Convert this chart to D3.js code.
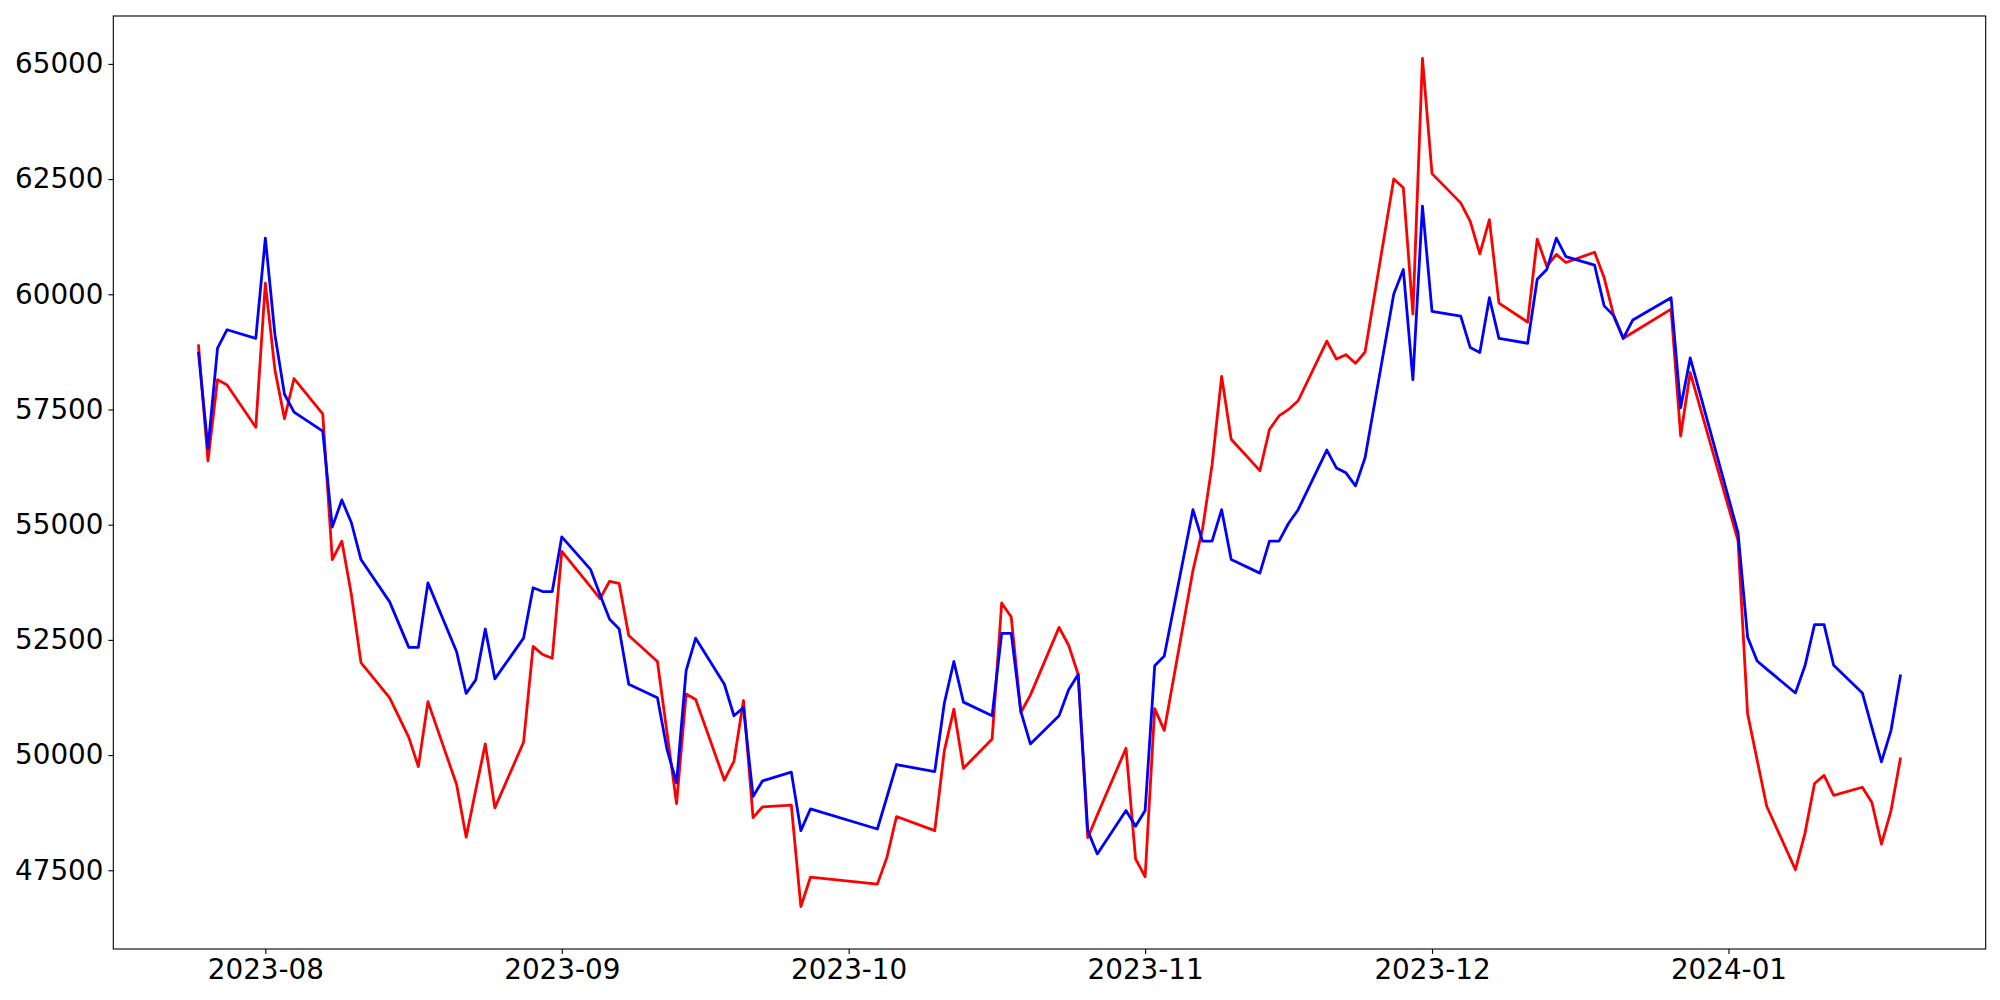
<!DOCTYPE html>
<html>
<head>
<meta charset="utf-8">
<script src="https://cdn.jsdelivr.net/npm/d3@7"></script>
<style>
  html, body { margin: 0; padding: 0; background: #ffffff; }
  svg { display: block; }
  text { font-family: "DejaVu Sans", sans-serif; }
</style>
</head>
<body>
<svg id="chart" width="2000" height="1000"></svg>
<script>
// ---- data (Korean trading days) ----
const dates = [
  "2023-07-25","2023-07-26","2023-07-27","2023-07-28","2023-07-31",
  "2023-08-01","2023-08-02","2023-08-03","2023-08-04","2023-08-07","2023-08-08","2023-08-09","2023-08-10","2023-08-11",
  "2023-08-14","2023-08-16","2023-08-17","2023-08-18","2023-08-21","2023-08-22","2023-08-23","2023-08-24","2023-08-25",
  "2023-08-28","2023-08-29","2023-08-30","2023-08-31","2023-09-01",
  "2023-09-04","2023-09-05","2023-09-06","2023-09-07","2023-09-08","2023-09-11","2023-09-12","2023-09-13","2023-09-14","2023-09-15",
  "2023-09-18","2023-09-19","2023-09-20","2023-09-21","2023-09-22","2023-09-25","2023-09-26","2023-09-27",
  "2023-10-04","2023-10-05","2023-10-06","2023-10-10","2023-10-11","2023-10-12","2023-10-13",
  "2023-10-16","2023-10-17","2023-10-18","2023-10-19","2023-10-20","2023-10-23","2023-10-24","2023-10-25","2023-10-26","2023-10-27",
  "2023-10-30","2023-10-31","2023-11-01","2023-11-02","2023-11-03",
  "2023-11-06","2023-11-07","2023-11-08","2023-11-09","2023-11-10","2023-11-13","2023-11-14","2023-11-15","2023-11-16","2023-11-17",
  "2023-11-20","2023-11-21","2023-11-22","2023-11-23","2023-11-24","2023-11-27","2023-11-28","2023-11-29","2023-11-30",
  "2023-12-01","2023-12-04","2023-12-05","2023-12-06","2023-12-07","2023-12-08","2023-12-11","2023-12-12","2023-12-13","2023-12-14","2023-12-15",
  "2023-12-18","2023-12-19","2023-12-20","2023-12-21","2023-12-22","2023-12-26","2023-12-27","2023-12-28",
  "2024-01-02","2024-01-03","2024-01-04","2024-01-05","2024-01-08","2024-01-09","2024-01-10","2024-01-11","2024-01-12",
  "2024-01-15","2024-01-16","2024-01-17","2024-01-18","2024-01-19"
];

const redValues = [
  58913,56384,58148,58031,57113,
  60243,58360,57302,58172,57407,54243,54642,53478,52007,
  51243,50384,49749,51160,49360,48219,49243,50243,48854,
  50278,52360,52184,52102,54419,
  53654,53396,53772,53725,52596,52031,50490,48948,51325,51207,
  49455,49866,51184,48643,48878,48913,46712,47350,
  47200,47780,48666,48360,50090,50996,49713,
  50349,53301,52996,50925,51302,52772,52384,51749,48207,48702,
  50148,47748,47360,51007,50536,
  54007,54900,56301,58219,56854,56172,57066,57360,57501,57690,
  58984,58596,58690,58502,58748,62502,62313,59572,65119,
  62619,61984,61584,60878,61619,59807,59396,61196,60607,60866,60690,
  60913,60360,59537,59043,59172,59678,56925,58302,
  54654,50900,49890,48890,47513,48302,49384,49561,49125,
  49302,48972,48066,48796,49949
];

const blueValues = [
  58749,56654,58831,59231,59043,
  61219,59125,57831,57443,57031,54948,55537,55042,54243,
  53325,52337,52337,53737,52242,51337,51631,52736,51654,
  52537,53631,53549,53549,54737,
  54031,53478,52948,52737,51537,51243,50125,49396,51831,52537,
  51537,50854,51031,49102,49442,49631,48360,48831,
  48396,49090,49795,49642,51125,52031,51149,
  50854,52643,52643,50949,50243,50854,51419,51748,48360,47855,
  48796,48454,48796,51937,52149,
  55325,54643,54643,55325,54243,53949,54643,54643,55031,55325,
  56619,56231,56125,55843,56454,60007,60537,58149,61913,
  59631,59525,58843,58737,59925,59043,58937,60325,60537,61219,60819,
  60631,59749,59537,59043,59443,59925,57537,58619,
  54830,52560,52042,51866,51348,51937,52831,52831,51949,
  51348,50596,49854,50537,51749
];

const yTickValues = [47500, 50000, 52500, 55000, 57500, 60000, 62500, 65000];
const xTickLabels = ["2023-08", "2023-09", "2023-10", "2023-11", "2023-12", "2024-01"];

// ---- layout ----
const W = 2000, H = 1000;
const plotLeft = 113.3, plotRight = 1985.7, plotTop = 16, plotBottom = 949;
const fontSize = 27.8;
const tickLen = 4.9, tickPad = 4.9;

const svg = d3.select("#chart");
svg.append("rect").attr("width", W).attr("height", H).attr("fill", "#ffffff");

const parseDay = d3.timeParse("%Y-%m-%d");
const parseMonth = d3.timeParse("%Y-%m");
const xDates = dates.map(parseDay);

const [xMin, xMax] = d3.extent(xDates);
const xPad = (xMax - xMin) * 0.05;
const x = d3.scaleTime()
  .domain([new Date(+xMin - xPad), new Date(+xMax + xPad)])
  .range([plotLeft, plotRight]);

const allVals = redValues.concat(blueValues);
const [yMin, yMax] = d3.extent(allVals);
const yPad = (yMax - yMin) * 0.05;
const y = d3.scaleLinear()
  .domain([yMin - yPad, yMax + yPad])
  .range([plotBottom, plotTop]);

// ---- lines ----
const series = [
  { name: "red", values: redValues, color: "#ff0000" },
  { name: "blue", values: blueValues, color: "#0000ff" }
];

const line = d3.line()
  .x(d => x(d.date))
  .y(d => y(d.value));

const plot = svg.append("g");
series.forEach(s => {
  const pts = xDates.map((dt, i) => ({ date: dt, value: s.values[i] }));
  plot.append("path")
    .datum(pts)
    .attr("fill", "none")
    .attr("stroke", s.color)
    .attr("stroke-width", 2.8)
    .attr("stroke-linejoin", "round")
    .attr("stroke-linecap", "butt")
    .attr("d", line);
});

// ---- axes ----
const xAxis = d3.axisBottom(x)
  .tickValues(xTickLabels.map(parseMonth))
  .tickFormat(d3.timeFormat("%Y-%m"))
  .tickSizeInner(tickLen)
  .tickSizeOuter(0)
  .tickPadding(tickPad);

const yAxis = d3.axisLeft(y)
  .tickValues(yTickValues)
  .tickFormat(d3.format("d"))
  .tickSizeInner(tickLen)
  .tickSizeOuter(0)
  .tickPadding(tickPad);

const gx = svg.append("g").attr("transform", `translate(0,${plotBottom})`).call(xAxis);
const gy = svg.append("g").attr("transform", `translate(${plotLeft},0)`).call(yAxis);

[gx, gy].forEach(g => {
  g.select(".domain").remove();
  g.selectAll(".tick line").attr("stroke", "#000").attr("stroke-width", 1.1);
  g.selectAll(".tick text")
    .attr("fill", "#000")
    .style("font-family", "'DejaVu Sans', sans-serif")
    .style("font-size", fontSize + "px");
});

// ---- frame ----
svg.append("rect")
  .attr("x", plotLeft).attr("y", plotTop)
  .attr("width", plotRight - plotLeft).attr("height", plotBottom - plotTop)
  .attr("fill", "none")
  .attr("stroke", "#000")
  .attr("stroke-width", 1.1);
</script>
</body>
</html>
